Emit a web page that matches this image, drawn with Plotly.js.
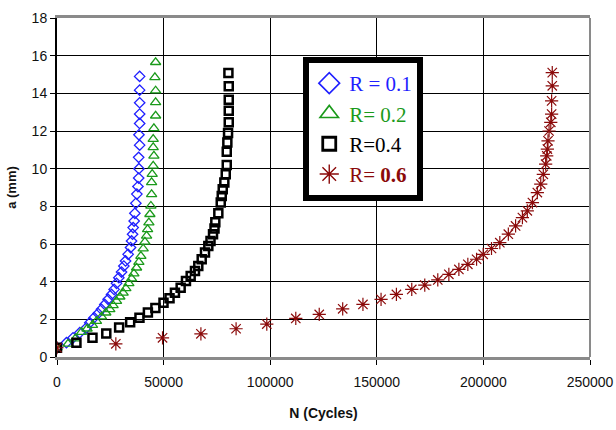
<!DOCTYPE html>
<html>
<head>
<meta charset="utf-8">
<script src="https://cdn.plot.ly/plotly-3.0.1.min.js"></script>
<style>html,body{margin:0;padding:0;background:#fff}#chart{width:616px;height:430px}</style>
</head>
<body>
<div id="chart"></div>
<script>
// R = 0.1
const nR01 = [0, 4420, 7520, 10670, 13820, 15370, 17390, 19270, 20870, 22420, 23970, 25570, 26790, 27920, 29000, 30270, 31350, 32150, 33370, 34500, 34970, 35440, 35720, 36190, 36520, 36990, 37460, 37970, 38300, 38440, 38300, 38770, 38440, 38770, 38770, 38770, 38770, 38770];
const aR01 = [0.5, 0.76, 1.02, 1.29, 1.55, 1.82, 2.09, 2.31, 2.53, 2.79, 3.06, 3.32, 3.59, 3.91, 4.21, 4.51, 4.83, 5.1, 5.45, 5.81, 6.16, 6.52, 6.87, 7.22, 7.63, 8.16, 8.65, 9.05, 9.5, 10.0, 10.6, 11.25, 11.8, 12.4, 12.9, 13.5, 14.17, 14.9];
// R = 0.2
const nR02 = [0, 5170, 8600, 11470, 14100, 16640, 18520, 20870, 22890, 24770, 26320, 27920, 29470, 31020, 32290, 33700, 34970, 36050, 37320, 38400, 39340, 40420, 41220, 42020, 42490, 43100, 43570, 44040, 44370, 44370, 44650, 45120, 45450, 45120, 45120, 45450, 46250, 46250, 46250, 45920, 46250];
const aR02 = [0.5, 0.7, 0.98, 1.32, 1.5, 1.69, 1.9, 2.14, 2.35, 2.53, 2.74, 2.97, 3.2, 3.41, 3.64, 3.91, 4.16, 4.43, 4.74, 5.04, 5.36, 5.75, 6.11, 6.43, 6.78, 7.14, 7.58, 8.02, 8.64, 9.27, 9.71, 10.15, 10.68, 11.13, 11.57, 12.14, 12.81, 13.52, 14.14, 14.85, 15.65];
// R = 0.4
const nR04 = [0, 9120, 16640, 23120, 29140, 34310, 38680, 42630, 46150, 49960, 52780, 55320, 58000, 60490, 62700, 64720, 66270, 67870, 69420, 70970, 72000, 73180, 73880, 74260, 75670, 76800, 77270, 77740, 78490, 79150, 79620, 79620, 79900, 80230, 80560, 80560, 80560, 80560, 80400];
const aR04 = [0.49, 0.76, 1.02, 1.25, 1.57, 1.85, 2.09, 2.36, 2.6, 2.88, 3.12, 3.41, 3.68, 4.03, 4.3, 4.56, 4.83, 5.19, 5.55, 5.9, 6.16, 6.52, 6.82, 7.16, 7.63, 8.2, 8.55, 8.91, 9.27, 9.71, 10.19, 10.9, 11.39, 11.89, 12.46, 13.07, 13.66, 14.37, 15.08];
// R = 0.6
const nR06 = [0, 27600, 49500, 67500, 84000, 98400, 112000, 123000, 134000, 143500, 152000, 159200, 166400, 172500, 178600, 183800, 188500, 192700, 196800, 199900, 203800, 207700, 211700, 215100, 218300, 220600, 223000, 225300, 226900, 228100, 229200, 229700, 230000, 230300, 230800, 231600, 232000, 232000, 232300, 232300];
const aR06 = [0.49, 0.7, 1.02, 1.23, 1.5, 1.75, 2.05, 2.26, 2.56, 2.79, 3.06, 3.32, 3.59, 3.82, 4.09, 4.39, 4.65, 4.92, 5.19, 5.45, 5.76, 6.07, 6.52, 6.96, 7.4, 7.76, 8.2, 8.73, 9.18, 9.7, 10.24, 10.68, 11.04, 11.48, 12.0, 12.46, 12.9, 13.6, 14.4, 15.1];

const xTicks = [0, 50000, 100000, 150000, 200000, 250000];
const yTicks = [0, 2, 4, 6, 8, 10, 12, 14, 16, 18];
const seriesNames = [
  '<span style="color:#1f1fff">R = 0.1</span>',
  '<span style="color:#1a9a1a">R= 0.2</span>',
  '<span style="color:#000000">R=0.4</span>',
  '<span style="color:#8b0a0a">R= <b>0.6</b></span>'
];
const colors = ['#1f1fff', '#1a9a1a', '#000000', '#8b0a0a'];
const symbols = ['diamond-open', 'triangle-up-open', 'square-open', 'asterisk-open'];
const sizes = [8, 9, 8, 11];
const lineW = [1.3, 1.3, 2.5, 1.2];
const legendSizes = [16, 16, 13, 16];
const legendLineW = [1.6, 1.6, 2.8, 1.4];

const dataX = [nR01, nR02, nR04, nR06];
const dataY = [aR01, aR02, aR04, aR06];

const traces = [];
for (let i = 0; i < 4; i++) {
  traces.push({x: dataX[i], y: dataY[i], name: seriesNames[i], type: 'scatter', mode: 'markers',
    showlegend: false,
    marker: {symbol: symbols[i], size: sizes[i], color: colors[i], line: {width: lineW[i], color: colors[i]}}});
}
// legend entries (larger legend symbols)
for (let i = 0; i < 4; i++) {
  traces.push({x: [null], y: [null], name: seriesNames[i], type: 'scatter', mode: 'markers',
    showlegend: true, hoverinfo: 'skip',
    marker: {symbol: symbols[i], size: legendSizes[i], color: colors[i], line: {width: legendLineW[i], color: colors[i]}}});
}

const layout = {
  width: 616, height: 430,
  margin: {l: 57, r: 26, t: 18, b: 73},
  paper_bgcolor: '#ffffff', plot_bgcolor: '#ffffff',
  font: {family: 'Liberation Sans, Arial, sans-serif', size: 14, color: '#111'},
  showlegend: true,
  legend: {
    x: 0.462, y: 0.885, xanchor: 'left', yanchor: 'top',
    bgcolor: '#ffffff', bordercolor: '#000000', borderwidth: 6,
    font: {family: 'Liberation Serif, Times New Roman, serif', size: 21, color: '#000'},
    itemsizing: 'trace'
  },
  xaxis: {
    range: [0, 250000], tickvals: xTicks, ticktext: xTicks.map(String),
    showgrid: true, gridcolor: '#000000', gridwidth: 1,
    zeroline: false, showline: true, linecolor: '#8a8a8a', linewidth: 3, mirror: true,
    ticks: 'outside', ticklen: 5, tickcolor: '#000', tickwidth: 1,
    ticklabelstandoff: 5,
    tickfont: {size: 14},
    title: {text: '<b>N (Cycles)</b>', font: {size: 14}, standoff: 20}
  },
  yaxis: {
    range: [0, 18], tickvals: yTicks, ticktext: yTicks.map(String),
    showgrid: true, gridcolor: '#000000', gridwidth: 1,
    zeroline: false, showline: true, linecolor: '#000000', linewidth: 2,
    ticks: 'outside', ticklen: 5, tickcolor: '#000', tickwidth: 1,
    tickfont: {size: 14},
    title: {text: '<b>a (mm)</b>', font: {size: 13}, standoff: 12}
  },
  shapes: [
    {type: 'line', xref: 'paper', yref: 'paper', x0: 1, x1: 1, y0: 0, y1: 1,
     line: {color: '#8a8a8a', width: 2}}
  ]
};

Plotly.newPlot('chart', traces, layout, {displayModeBar: false, staticPlot: true});
</script>
</body>
</html>
